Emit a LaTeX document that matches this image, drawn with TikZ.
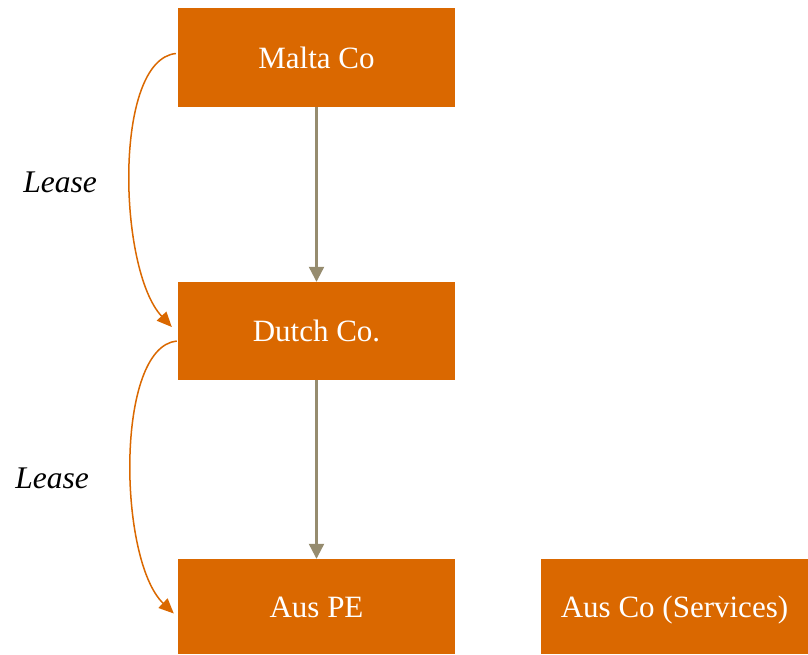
\documentclass[tikz,border=0pt]{standalone}
\usepackage{fontspec}
\setmainfont{Liberation Serif}
\usetikzlibrary{arrows.meta}
\definecolor{boxorange}{HTML}{DA6800}
\definecolor{owngrey}{HTML}{968C6F}
\tikzset{
  box/.style={fill=boxorange, draw=none, text=white, inner sep=0pt,
    minimum width=277pt, minimum height=99pt, text height=21pt, text depth=0pt,
    font=\fontsize{31}{37}\selectfont},
  own/.style={draw=owngrey, line width=2.2pt, -{Triangle[length=15pt,width=15pt]}},
  lease/.style={draw=boxorange, line width=1.5pt, -{Triangle[length=15pt,width=13pt]}},
  lbl/.style={font=\fontsize{31.5}{37}\selectfont\itshape, text=black, inner sep=0pt}
}
\begin{document}
\begin{tikzpicture}[x=1pt,y=-1pt]
\useasboundingbox (0,0) rectangle (808,654);
\node[box] (malta) at (316.5,57.5) {Malta Co};
\node[box, minimum height=98pt] (dutch) at (316.5,331) {Dutch Co.};
\node[box, minimum height=95pt, text depth=-2pt] (auspe) at (316.5,606.5) {Aus PE};
\node[box, minimum height=95pt, minimum width=267pt, text depth=-2pt] (ausco) at (674.5,606.5) {Aus Co (Services)};
\node[lbl] (l1) at (60,182) {Lease};
\node[lbl] (l2) at (52,478) {Lease};
\draw[own] (malta) -- (dutch);
\draw[own] (dutch) -- (auspe);
\draw[lease] ([xshift=-2pt,yshift=4pt]malta.west) .. controls (113,60) and (118,270) .. ([xshift=-6pt,yshift=4pt]dutch.west);
\draw[lease] ([xshift=-1pt,yshift=-10pt]dutch.west) .. controls (115,347) and (118,560) .. ([xshift=-4pt,yshift=-7pt]auspe.west);
\end{tikzpicture}
\end{document}
